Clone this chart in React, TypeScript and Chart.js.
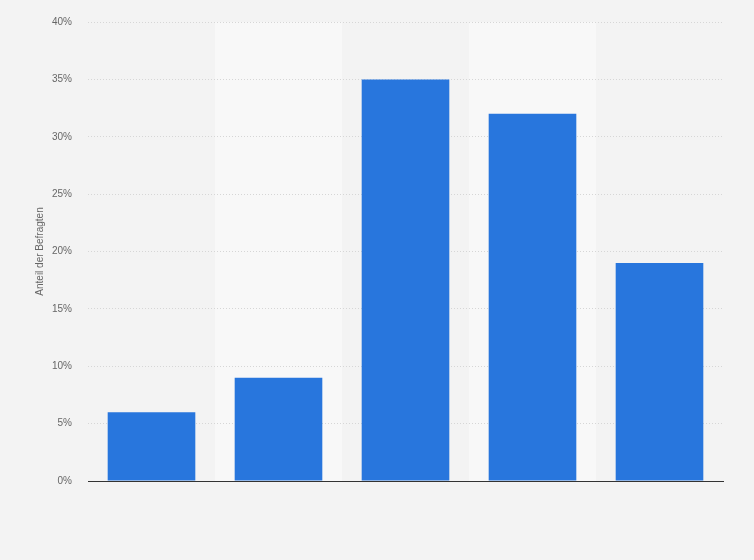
import { useEffect, useRef } from "react";
import { Chart, registerables } from "chart.js";

Chart.register(...registerables);

const categories = ["1", "2", "3", "4", "5"];
const shares = [6, 9, 35, 32, 19];
const yTicks = [0, 5, 10, 15, 20, 25, 30, 35, 40];

const bandPlugin = {
  id: "bands",
  beforeDraw(chart: Chart) {
    const { ctx, chartArea, scales } = chart;
    ctx.save();
    ctx.fillStyle = "#f3f3f3";
    ctx.fillRect(0, 0, chart.width, chart.height);
    const x = scales.x;
    const w = (chartArea.right - chartArea.left) / categories.length;
    ctx.fillStyle = "#f8f8f8";
    categories.forEach((_, i) => {
      if (i % 2 === 1) {
        const cx = x.getPixelForValue(i);
        ctx.fillRect(cx - w / 2, chartArea.top, w, chartArea.bottom - chartArea.top);
      }
    });
    ctx.restore();
  },
};

export default function App() {
  const chartRef = useRef<HTMLCanvasElement>(null);
  const chartInstance = useRef<Chart | null>(null);

  useEffect(() => {
    document.body.style.margin = "0";
    if (!chartRef.current) return;
    const ctx = chartRef.current.getContext("2d");
    if (!ctx) return;

    if (chartInstance.current) {
      chartInstance.current.destroy();
    }

    chartInstance.current = new Chart(ctx, {
      type: "bar",
      data: {
        labels: categories,
        datasets: [
          {
            label: "Anteil der Befragten",
            data: shares,
            backgroundColor: "#2876dd",
            borderWidth: 0,
            barPercentage: 0.69,
            categoryPercentage: 1,
          },
        ],
      },
      plugins: [bandPlugin],
      options: {
        responsive: false,
        animation: false,
        layout: {
          padding: { left: 0, right: 31, top: 18, bottom: 0 },
        },
        plugins: {
          legend: { display: false },
          tooltip: { enabled: false },
        },
        scales: {
          x: {
            grid: { display: false, drawTicks: false },
            border: { display: true, color: "#333333", width: 1 },
            ticks: { display: false },
            afterFit(scale) {
              scale.height = 79;
            },
          },
          y: {
            min: 0,
            max: 40,
            afterBuildTicks(scale) {
              scale.ticks = yTicks.map((v) => ({ value: v }));
            },
            grid: {
              color: "#d6d6d6",
              drawTicks: false,
            },
            border: { display: false, dash: [1, 2] },
            ticks: {
              padding: 16,
              color: "#666666",
              font: { family: "'Liberation Sans', Arial, sans-serif", size: 10 },
              callback: (v) => `${v}%`,
            },
            title: {
              display: true,
              text: "Anteil der Befragten",
              color: "#666666",
              font: { family: "'Liberation Sans', Arial, sans-serif", size: 10 },
              padding: { top: 34, bottom: 0 },
            },
            afterFit(scale) {
              scale.width = 88;
            },
          },
        },
      },
    });

    return () => {
      if (chartInstance.current) {
        chartInstance.current.destroy();
        chartInstance.current = null;
      }
    };
  }, []);

  return (
    <div style={{ width: 754, height: 560, background: "#f3f3f3" }}>
      <canvas ref={chartRef} width={754} height={560} />
    </div>
  );
}
